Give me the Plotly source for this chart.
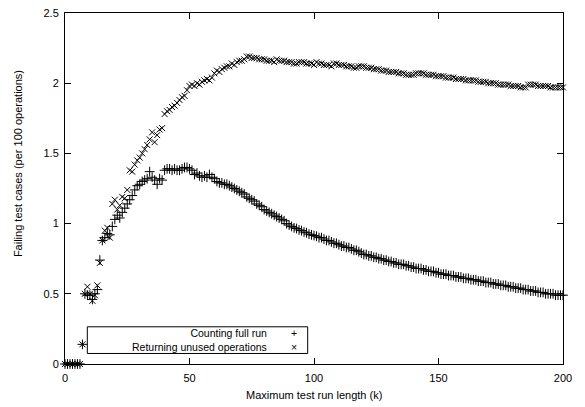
import plotly.graph_objects as go

# x positions: maximum test run length (k), 0..200
run_length = list(range(0, 201))

# "Counting full run" (+ markers)
counting_full = [
    0, 0, 0, 0, 0, 0, 0, 0.14, 0.50, 0.49,
    0.49, 0.46, 0.50, 0.53, 0.74, 0.88, 0.90, 0.93, 0.92, 0.98,
    1.03, 1.06, 1.04, 1.08, 1.11, 1.14, 1.17, 1.20, 1.24, 1.27,
    1.28, 1.30, 1.31, 1.32, 1.37, 1.33, 1.31, 1.28, 1.32, 1.31,
    1.38, 1.39, 1.39, 1.38, 1.39, 1.38, 1.38, 1.39, 1.40, 1.40,
    1.39, 1.38, 1.35, 1.36, 1.34, 1.33, 1.34, 1.33, 1.35, 1.33,
    1.32, 1.30, 1.29, 1.29, 1.28, 1.28, 1.27, 1.26, 1.25, 1.24,
    1.23, 1.22, 1.21, 1.19, 1.18, 1.17, 1.16, 1.14, 1.13, 1.12,
    1.10, 1.09, 1.08, 1.07, 1.06, 1.05, 1.04, 1.03, 1.02, 1.00,
    0.99, 0.98, 0.97, 0.965, 0.955, 0.95, 0.94, 0.935, 0.925, 0.92,
    0.915, 0.91, 0.90, 0.90, 0.89, 0.88, 0.88, 0.87, 0.86, 0.86,
    0.85, 0.84, 0.84, 0.83, 0.83, 0.82, 0.81, 0.81, 0.80, 0.79,
    0.78, 0.78, 0.77, 0.77, 0.76, 0.76, 0.75, 0.75, 0.74, 0.74,
    0.73, 0.73, 0.72, 0.72, 0.71, 0.71, 0.71, 0.70, 0.70, 0.69,
    0.69, 0.68, 0.68, 0.68, 0.67, 0.67, 0.66, 0.66, 0.66, 0.65,
    0.65, 0.64, 0.64, 0.64, 0.63, 0.63, 0.63, 0.62, 0.62, 0.62,
    0.61, 0.61, 0.61, 0.60, 0.60, 0.60, 0.59, 0.59, 0.59, 0.58,
    0.58, 0.58, 0.57, 0.57, 0.57, 0.56, 0.56, 0.56, 0.55, 0.55,
    0.55, 0.54, 0.54, 0.54, 0.53, 0.53, 0.53, 0.52, 0.52, 0.52,
    0.51, 0.51, 0.51, 0.50, 0.50, 0.50, 0.50, 0.49, 0.49, 0.49,
    0.49,
]

# "Returning unused operations" (x markers)
returning_unused = [
    0, 0, 0, 0, 0, 0, 0, 0.14, 0.50, 0.55,
    0.50, 0.45, 0.49, 0.56, 0.72, 0.88, 0.95, 0.97, 0.90, 1.14,
    1.17, 1.10, 1.13, 1.19, 1.18, 1.24, 1.38, 1.37, 1.42, 1.45,
    1.47, 1.50, 1.53, 1.56, 1.60, 1.65, 1.58, 1.63, 1.67, 1.68,
    1.78, 1.80, 1.81, 1.83, 1.84, 1.86, 1.88, 1.90, 1.91, 1.95,
    1.98, 1.99, 1.98, 2.00, 1.99, 2.01, 2.02, 2.03, 2.02, 2.04,
    2.07, 2.09, 2.08, 2.10, 2.11, 2.12, 2.12, 2.14, 2.13, 2.15,
    2.16, 2.16, 2.17, 2.19, 2.19, 2.18, 2.18, 2.18, 2.17, 2.17,
    2.17, 2.16, 2.16, 2.16, 2.15, 2.17, 2.16, 2.16, 2.16, 2.15,
    2.15, 2.15, 2.14, 2.14, 2.15, 2.15, 2.15, 2.14, 2.14, 2.14,
    2.13, 2.15, 2.14, 2.14, 2.13, 2.13, 2.13, 2.12, 2.14, 2.14,
    2.13, 2.13, 2.13, 2.12, 2.12, 2.12, 2.11, 2.11, 2.12, 2.12,
    2.12, 2.11, 2.11, 2.11, 2.10, 2.10, 2.10, 2.09, 2.09, 2.09,
    2.08, 2.08, 2.08, 2.08, 2.07, 2.07, 2.07, 2.06, 2.06, 2.06,
    2.06, 2.07, 2.07, 2.07, 2.07, 2.06, 2.06, 2.06, 2.06, 2.05,
    2.05, 2.05, 2.05, 2.04, 2.04, 2.04, 2.04, 2.03, 2.03, 2.03,
    2.03, 2.02, 2.02, 2.02, 2.02, 2.02, 2.01, 2.01, 2.01, 2.01,
    2.00, 2.00, 2.00, 2.00, 1.99, 1.99, 1.99, 1.99, 1.99, 1.98,
    1.98, 1.98, 1.98, 1.97, 1.97, 1.97, 1.99, 1.99, 1.99, 1.99,
    1.98, 1.98, 1.98, 1.98, 1.98, 1.97, 1.97, 1.97, 1.97, 1.97,
    1.97,
]

x_ticks = [0, 50, 100, 150, 200]
y_ticks = [0, 0.5, 1, 1.5, 2, 2.5]
x_tick_labels = ["0", "50", "100", "150", "200"]
y_tick_labels = ["0", "0.5", "1", "1.5", "2", "2.5"]

series_names = ["Counting full run", "Returning unused operations"]
key_symbols = ["+", "×"]
x_title = "Maximum test run length (k)"
y_title = "Failing test cases (per 100 operations)"

FONT = "Liberation Sans, Arial, Helvetica, sans-serif"

fig = go.Figure()
fig.add_trace(go.Scatter(
    x=run_length, y=counting_full, mode="markers", name=series_names[0],
    marker=dict(symbol="cross-thin", size=7, color="black",
                line=dict(color="black", width=1)),
    cliponaxis=False, showlegend=False,
))
fig.add_trace(go.Scatter(
    x=run_length, y=returning_unused, mode="markers", name=series_names[1],
    marker=dict(symbol="x-thin", size=6, color="black",
                line=dict(color="black", width=1)),
    cliponaxis=False, showlegend=False,
))

axis_common = dict(
    showline=True, linecolor="black", linewidth=1, mirror="ticks",
    ticks="inside", ticklen=6, tickwidth=1, tickcolor="black",
    showgrid=False, zeroline=False,
    tickfont=dict(family=FONT, size=11, color="black"),
)

fig.update_layout(
    width=585, height=407,
    margin=dict(l=65, r=22, t=7, b=43),
    paper_bgcolor="white", plot_bgcolor="white",
    font=dict(family=FONT, size=11, color="black"),
    xaxis=dict(range=[0, 200], tickvals=x_ticks, ticktext=x_tick_labels,
               ticklabelstandoff=4, **axis_common),
    yaxis=dict(range=[0, 2.5], tickvals=y_ticks, ticktext=y_tick_labels,
               ticklabelstandoff=3, **axis_common),
)

# axis titles
fig.add_annotation(text=x_title, xref="paper", yref="paper", x=0.5, y=-0.087,
                   xanchor="center", yanchor="middle", showarrow=False,
                   font=dict(family=FONT, size=11, color="black"))
fig.add_annotation(text=y_title, xref="paper", yref="paper", x=-0.094, y=0.57,
                   xanchor="center", yanchor="middle", showarrow=False, textangle=-90,
                   font=dict(family=FONT, size=11, color="black"))

# gnuplot-style key box (text right-aligned, sample to the right)
fig.add_shape(type="rect", xref="paper", yref="paper",
              x0=0.0448, x1=0.4873, y0=0.030, y1=0.106,
              line=dict(color="black", width=1), fillcolor="white", layer="below")
fig.add_annotation(text="<br>".join(series_names), xref="paper", yref="paper",
                   x=0.4096, y=0.068, xanchor="right", yanchor="middle", align="right",
                   showarrow=False, font=dict(family=FONT, size=10.5, color="black"))
fig.add_annotation(text="<br>".join(key_symbols), xref="paper", yref="paper",
                   x=0.4598, y=0.068, xanchor="center", yanchor="middle", align="center",
                   showarrow=False, font=dict(family=FONT, size=10.5, color="black"))

fig.write_html("out.html")
